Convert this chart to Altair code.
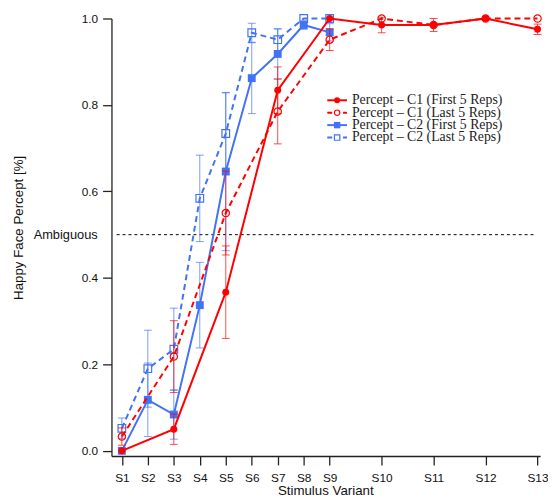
import altair as alt
import pandas as pd

# ---- data ----
stim_labels = ["S1", "S2", "S3", "S4", "S5", "S6", "S7", "S8", "S9", "S10", "S11", "S12", "S13"]
stim_pos = [1, 2, 3, 4, 5, 6, 7, 8, 9, 11, 13, 15, 17]

c1_stims = ["S1", "S3", "S5", "S7", "S9", "S10", "S11", "S12", "S13"]
c1_first = [0.0, 0.05, 0.367, 0.834, 1.0, 0.985, 0.985, 1.0, 0.975]
c1_first_err = [0.0, 0.035, 0.107, 0.054, 0.0, 0.018, 0.015, 0.0, 0.012]
c1_last = [0.033, 0.218, 0.55, 0.785, 0.951, 1.0, 0.985, 1.0, 1.0]
c1_last_err = [0.02, 0.083, 0.097, 0.075, 0.025, 0.0, 0.0, 0.0, 0.0]

c2_stims = ["S1", "S2", "S3", "S4", "S5", "S6", "S7", "S8", "S9"]
c2_first = [0.0, 0.118, 0.084, 0.337, 0.646, 0.862, 0.918, 0.985, 0.968]
c2_first_err = [0.0, 0.085, 0.057, 0.099, 0.183, 0.082, 0.058, 0.01, 0.02]
c2_last = [0.052, 0.19, 0.235, 0.584, 0.734, 0.967, 0.951, 1.0, 1.0]
c2_last_err = [0.024, 0.089, 0.095, 0.1, 0.094, 0.022, 0.025, 0.0, 0.0]

series_names = [
    "Percept \u2013 C1 (First 5 Reps)",
    "Percept \u2013 C1 (Last 5 Reps)",
    "Percept \u2013 C2 (First 5 Reps)",
    "Percept \u2013 C2 (Last 5 Reps)",
]
ambiguous_level = 0.5
y_ticks = [0.0, 0.2, 0.4, 0.6, 0.8, 1.0]

RED = "#ff0000"
BLUE = "#4272f5"

pos_of = dict(zip(stim_labels, stim_pos))


def frame(stims, vals, errs):
    df = pd.DataFrame({"stim": stims, "v": vals, "e": errs})
    df["x"] = [pos_of[s] for s in stims]
    df["lo"] = df["v"] - df["e"]
    df["hi"] = df["v"] + df["e"]
    return df


xscale = alt.Scale(domain=[0.6, 17.1], nice=False, zero=False)
yscale = alt.Scale(domain=[-0.012, 1.0], nice=False, zero=False)

label_expr = " : ".join(
    f"datum.value == {p} ? '{s}'" for s, p in zip(stim_labels, stim_pos)
) + " : ''"

x_axis = alt.Axis(
    values=stim_pos, labelExpr=label_expr, title="Stimulus Variant",
    grid=False, tickSize=9, labelPadding=8, titleX=217, titleY=28,
    titleBaseline="top", titleAlign="center",
)
y_axis = alt.Axis(
    values=y_ticks, format=".1f", title="Happy Face Percept [%]",
    grid=False, tickSize=9, labelPadding=5, titleX=-87, titleY=212,
    titleBaseline="bottom", titleAlign="center",
)


def XQ(f):
    return alt.X(f, scale=xscale, axis=x_axis)


def YQ(f):
    return alt.Y(f, scale=yscale, axis=y_axis)


def series_layers(df, color, shape, filled, dash, size):
    base = alt.Chart(df)
    eb = alt.Chart(df[df["e"] > 0])
    rule = eb.mark_rule(color=color, strokeWidth=1, opacity=0.7).encode(
        x=XQ("x:Q"), y=YQ("lo:Q"), y2="hi:Q")
    cap_lo = eb.mark_tick(color=color, thickness=1, size=8, opacity=0.7, orient="horizontal").encode(
        x=XQ("x:Q"), y=YQ("lo:Q"))
    cap_hi = eb.mark_tick(color=color, thickness=1, size=8, opacity=0.7, orient="horizontal").encode(
        x=XQ("x:Q"), y=YQ("hi:Q"))
    line_kw = dict(color=color, strokeWidth=2)
    if dash:
        line_kw["strokeDash"] = [6, 4]
    line = base.mark_line(**line_kw).encode(x=XQ("x:Q"), y=YQ("v:Q"))
    if filled:
        pts = base.mark_point(shape=shape, filled=True, color=color, size=size, opacity=1).encode(
            x=XQ("x:Q"), y=YQ("v:Q"))
    else:
        pts = base.mark_point(shape=shape, filled=False, color=color, size=size,
                              strokeWidth=1.2, opacity=1, fill="white", fillOpacity=0).encode(
            x=XQ("x:Q"), y=YQ("v:Q"))
    return [line, rule, cap_lo, cap_hi, pts]


d_c1f = frame(c1_stims, c1_first, c1_first_err)
d_c1l = frame(c1_stims, c1_last, c1_last_err)
d_c2f = frame(c2_stims, c2_first, c2_first_err)
d_c2l = frame(c2_stims, c2_last, c2_last_err)

layers = []
layers += series_layers(d_c2l, BLUE, "square", False, True, 60)
layers += series_layers(d_c2f, BLUE, "square", True, False, 64)
layers += series_layers(d_c1l, RED, "circle", False, True, 55)
layers += series_layers(d_c1f, RED, "circle", True, False, 50)

# ambiguous line and label
amb_df = pd.DataFrame({"x": [0.8], "x2": [16.9], "v": [ambiguous_level], "label": ["Ambiguous"]})
amb_rule = alt.Chart(amb_df).mark_rule(color="black", strokeWidth=1, strokeDash=[3, 3]).encode(
    x=XQ("x:Q"), x2="x2:Q", y=YQ("v:Q"))
amb_text = alt.Chart(amb_df).mark_text(align="right", baseline="middle", fontSize=13,
                                       font="Liberation Sans", color="#111").encode(
    x=alt.value(-14), y=YQ("v:Q"), text="label:N")
layers = [amb_rule, amb_text] + layers

# custom legend (layout in pixels)
leg_y0 = 83
leg_dy = 12.6
leg_styles = [
    (RED, "circle", True, None),
    (RED, "circle", False, [5, 3]),
    (BLUE, "square", True, None),
    (BLUE, "square", False, [5, 3]),
]
for i, (name, (col, shp, fil, dsh)) in enumerate(zip(series_names, leg_styles)):
    yy = leg_y0 + i * leg_dy
    ldf = pd.DataFrame({"label": [name]})
    rk = dict(color=col, strokeWidth=2)
    if dsh:
        rk["strokeDash"] = dsh
    layers.append(alt.Chart(ldf).mark_rule(**rk).encode(
        x=alt.value(219), x2=alt.value(239), y=alt.value(yy)))
    if fil:
        layers.append(alt.Chart(ldf).mark_point(shape=shp, filled=True, color=col,
                                               size=36 if shp == "circle" else 42, opacity=1).encode(
            x=alt.value(229), y=alt.value(yy)))
    else:
        layers.append(alt.Chart(ldf).mark_point(shape=shp, filled=False, color=col, fill="white",
                                               fillOpacity=1, strokeWidth=1.2,
                                               size=30, opacity=1).encode(
            x=alt.value(229), y=alt.value(yy)))
    layers.append(alt.Chart(ldf).mark_text(align="left", baseline="middle", fontSize=14,
                                           font="Liberation Serif", color="#222").encode(
        x=alt.value(244), y=alt.value(yy), text="label:N"))

chart = alt.layer(*layers).properties(
    width=435, height=444,
    padding={"left": 105, "top": 7, "right": 8, "bottom": 42},
    autosize=alt.AutoSizeParams(type="none"),
).configure_view(stroke=None).configure_axis(
    domainColor="#222", domainWidth=1.3, tickColor="#222", tickWidth=1.3,
    labelFont="Liberation Sans", labelFontSize=12, labelColor="#111",
    titleFont="Liberation Sans", titleFontSize=13.5, titleFontWeight="normal", titleColor="#111",
)

chart.save("out.html", embed_options={"renderer": "svg", "actions": False})
